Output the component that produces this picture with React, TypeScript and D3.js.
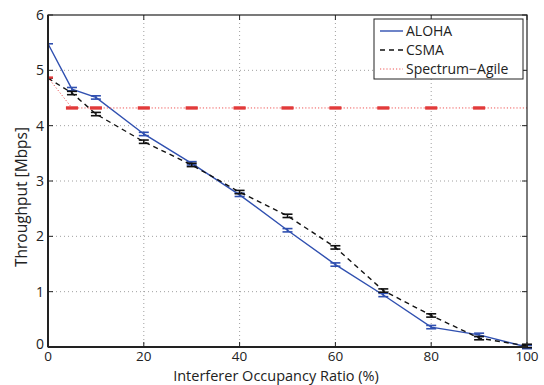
import React from "react";
import * as d3 from "d3";

const xs = [0, 5, 10, 20, 30, 40, 50, 60, 70, 80, 90, 100];
const aloha = [5.48, 4.66, 4.51, 3.85, 3.32, 2.75, 2.11, 1.49, 0.94, 0.36, 0.22, 0.0];
const csma = [4.86, 4.59, 4.21, 3.71, 3.29, 2.8, 2.37, 1.8, 1.02, 0.57, 0.16, 0.02];
const agile = [4.87, 4.32, 4.32, 4.32, 4.32, 4.32, 4.32, 4.32, 4.32, 4.32, 4.32, 4.32];
const xTicks = [0, 20, 40, 60, 80, 100];
const yTicks = [0, 1, 2, 3, 4, 5, 6];
const seriesNames = ["ALOHA", "CSMA", "Spectrum\u2212Agile"];

const W = 544, H = 385;
const L = 48, R = 527, T = 15, B = 347;
const FONT = "'Open Sans', Lato, sans-serif";

export default function App() {
  const x = d3.scaleLinear().domain([0, 100]).range([L, R]);
  const y = d3.scaleLinear().domain([0, 6]).range([B, T]);
  const line = d3.line<number>().x((_, i) => x(xs[i])).y((d) => y(d));
  const series = [
    { name: seriesNames[0], data: aloha, color: "#3050b0", dash: "none", width: 1.4, err: 0.03, skipLastBar: false, bar: "#3050b0", hw: 5, capW: 1.6 },
    { name: seriesNames[1], data: csma, color: "#111", dash: "5,4", width: 1.4, err: 0.03, skipLastBar: false, bar: "#111", hw: 5, capW: 1.6 },
    { name: seriesNames[2], data: agile, color: "#ee5555", dash: "1.2,2", width: 1, err: 0.01, skipLastBar: true, bar: "#e23a3a", hw: 6, capW: 2.3 },
  ];
  return (
    <svg width={W} height={H} style={{ position: "absolute", left: 0, top: 0, background: "#fff" }}>
      {xTicks.slice(1, -1).map((t) => (
        <line key={"gx" + t} x1={x(t)} x2={x(t)} y1={T} y2={B} stroke="#888" strokeWidth={0.8} strokeDasharray="1,3" />
      ))}
      {yTicks.slice(1, -1).map((t) => (
        <line key={"gy" + t} x1={L} x2={R} y1={y(t)} y2={y(t)} stroke="#888" strokeWidth={0.8} strokeDasharray="1,3" />
      ))}
      {series.map((s, si) => (
        <g key={si}>
          <path d={line(s.data) || ""} fill="none" stroke={s.color} strokeWidth={s.width} strokeDasharray={s.dash} />
          {s.data.map((v, i) => {
            if (xs[i] === 0 || (s.skipLastBar && xs[i] === 100)) return null;
            const cx = x(xs[i]);
            const hw = s.hw;
            return (
              <g key={i} stroke={s.bar} strokeWidth={s.capW}>
                <line x1={cx} x2={cx} y1={y(v - s.err)} y2={y(v + s.err)} />
                <line x1={cx - hw} x2={cx + hw} y1={y(v - s.err)} y2={y(v - s.err)} />
                <line x1={cx - hw} x2={cx + hw} y1={y(v + s.err)} y2={y(v + s.err)} />
              </g>
            );
          })}
          <line x1={x(0)} x2={x(0) + 5} y1={y(s.data[0])} y2={y(s.data[0])} stroke={s.bar} strokeWidth={s.capW} />
        </g>
      ))}
      <rect x={L} y={T} width={R - L} height={B - T} fill="none" stroke="#222" strokeWidth={1.2} />
      <line x1={L} x2={R} y1={B} y2={B} stroke="#222" strokeWidth={2} />
      <line x1={L} x2={L} y1={T} y2={B} stroke="#222" strokeWidth={2} />
      {xTicks.map((t) => (
        <g key={"xt" + t}>
          <line x1={x(t)} x2={x(t)} y1={B} y2={B - 5} stroke="#222" />
          <line x1={x(t)} x2={x(t)} y1={T} y2={T + 5} stroke="#222" />
          <text x={x(t)} y={B + 13.5} textAnchor="middle" fontSize={13.5} fontFamily={FONT} fill="#222">{t}</text>
        </g>
      ))}
      {yTicks.map((t) => (
        <g key={"yt" + t}>
          <line x1={L} x2={L + 5} y1={y(t)} y2={y(t)} stroke="#222" />
          <line x1={R} x2={R - 5} y1={y(t)} y2={y(t)} stroke="#222" />
          <text x={L - 4} y={y(t) + 5 - (t === 0 ? 3 : 0)} textAnchor="end" fontSize={14} fontFamily={FONT} fill="#222">{t}</text>
        </g>
      ))}
      <text x={276} y={380.5} textAnchor="middle" fontSize={14.5} fontFamily={FONT} fill="#222">Interferer Occupancy Ratio (%)</text>
      <text transform={`translate(27,197) rotate(-90)`} textAnchor="middle" fontSize={15.5} fontFamily={FONT} fill="#222">Throughput [Mbps]</text>
      <rect x={374} y={19} width={149} height={60} fill="#fff" stroke="#222" strokeWidth={1} />
      {series.map((s, i) => (
        <g key={"lg" + i}>
          <line x1={380} x2={403} y1={31 + i * 19} y2={31 + i * 19} stroke={s.color} strokeWidth={s.width} strokeDasharray={s.dash} />
          <text x={406} y={36 + i * 19} fontSize={14} fontFamily={FONT} fill="#222">{s.name}</text>
        </g>
      ))}
    </svg>
  );
}
